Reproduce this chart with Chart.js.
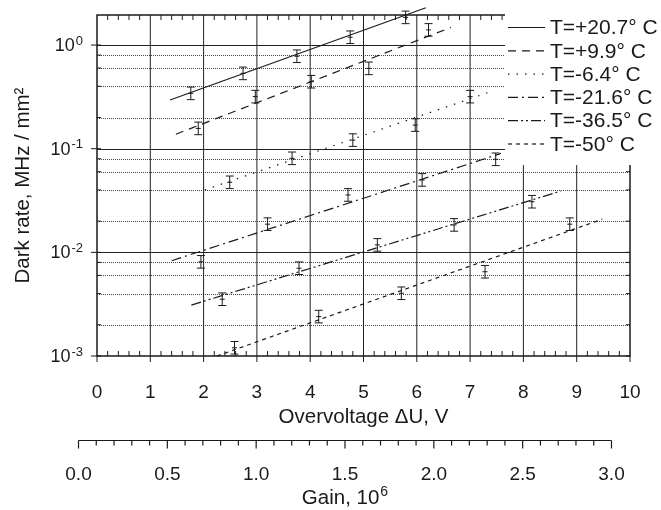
<!DOCTYPE html>
<html>
<head>
<meta charset="utf-8">
<script src="https://cdn.jsdelivr.net/npm/chart.js@4.4.0/dist/chart.umd.min.js"></script>
<style>
  html, body { margin: 0; padding: 0; background: #fff; }
  #wrap { width: 661px; height: 510px; }
</style>
</head>
<body>
<div id="wrap"><canvas id="chart" width="661" height="510"></canvas></div>
<script>
const temps = ['T=+20.7° C', 'T=+9.9° C', 'T=-6.4° C', 'T=-21.6° C', 'T=-36.5° C', 'T=-50° C'];

// measured dark rate (MHz/mm2) vs overvoltage (V)
const volt207 = [1.76, 2.74, 3.75, 4.75, 5.79];
const rate207 = [0.342, 0.533, 0.78, 1.19, 1.85];
const volt99 = [1.90, 2.97, 4.02, 5.10, 6.22];
const rate99 = [0.157, 0.318, 0.443, 0.596, 1.40];
const volt64 = [2.49, 3.66, 4.80, 5.97, 7.00];
const rate64 = [0.0474, 0.0808, 0.121, 0.169, 0.318];
const volt216 = [1.95, 3.20, 4.71, 6.10, 7.48];
const rate216 = [0.0081, 0.0187, 0.0358, 0.050, 0.079];
const volt365 = [2.35, 3.79, 5.26, 6.70, 8.16];
const rate365 = [0.00353, 0.00703, 0.0118, 0.0184, 0.0308];
const volt50 = [2.58, 4.16, 5.71, 7.28, 8.87];
const rate50 = [0.0012, 0.0024, 0.00403, 0.0065, 0.0187];

// relative error of each point (same for a series)
const relErr = [0.15, 0.15, 0.15, 0.15, 0.15, 0.15];

// fitted exponential lines, end points
const fitVolt207 = [1.37, 6.17], fitRate207 = [0.295, 2.29];
const fitVolt99 = [1.48, 6.64], fitRate99 = [0.138, 1.48];
const fitVolt64 = [2.02, 7.42], fitRate64 = [0.040, 0.36];
const fitVolt216 = [1.40, 7.58], fitRate216 = [0.0083, 0.090];
const fitVolt365 = [1.77, 8.70], fitRate365 = [0.0031, 0.039];
const fitVolt50 = [2.25, 9.48], fitRate50 = [0.0010, 0.0209];

const decades = [0.001, 0.01, 0.1, 1];
const decadeExp = ['-3', '-2', '-1', '0'];
const minorMult = [2, 4, 6, 8];

const dashes = [[], [8, 6], [1.5, 7], [10, 4, 2, 4], [10, 3, 2, 3, 2, 3], [4, 4]];

const ink = '#1a1a1a';
const family = "'Liberation Sans', Arial, 'DejaVu Sans', sans-serif";
const gainShift = 18.5;

const pts = [[volt207, rate207], [volt99, rate99], [volt64, rate64], [volt216, rate216], [volt365, rate365], [volt50, rate50]];
const fits = [[fitVolt207, fitRate207], [fitVolt99, fitRate99], [fitVolt64, fitRate64], [fitVolt216, fitRate216], [fitVolt365, fitRate365], [fitVolt50, fitRate50]];

const zip = (xs, ys) => xs.map((x, i) => ({ x: x, y: ys[i] }));

const datasets = [];
fits.forEach((f, i) => {
  datasets.push({
    label: temps[i],
    data: zip(f[0], f[1]),
    showLine: true,
    borderColor: ink,
    borderWidth: 1.2,
    borderDash: dashes[i],
    pointRadius: 0,
    clip: false,
    isFit: true
  });
});
pts.forEach((p, i) => {
  datasets.push({
    label: temps[i] + ' data',
    data: zip(p[0], p[1]),
    showLine: false,
    pointStyle: 'line',
    pointRadius: 2.5,
    borderColor: ink,
    borderWidth: 1,
    clip: false,
    err: relErr[i]
  });
});

const decor = {
  id: 'decor',
  afterLayout(chart) {
    const g = chart.scales.x2;
    g.left -= gainShift;
    g.right -= gainShift;
    g.configure();
  },
  beforeDatasetsDraw(chart) {
    const ctx = chart.ctx;
    const { left, right, top, bottom } = chart.chartArea;
    const x = chart.scales.x, y = chart.scales.y;
    ctx.save();
    // dotted minor grid
    ctx.strokeStyle = '#444';
    ctx.lineWidth = 1;
    ctx.setLineDash([1, 1]);
    decades.forEach(d => minorMult.forEach(m => {
      const v = d * m;
      if (v >= y.max) return;
      const py = Math.round(y.getPixelForValue(v)) + 0.5;
      ctx.beginPath(); ctx.moveTo(left, py); ctx.lineTo(right, py); ctx.stroke();
    }));
    ctx.setLineDash([]);
    ctx.strokeStyle = '#222';
    decades.slice(1).forEach(d => {
      const py = Math.round(y.getPixelForValue(d)) + 0.5;
      ctx.beginPath(); ctx.moveTo(left, py); ctx.lineTo(right, py); ctx.stroke();
    });
    for (let v = 1; v < 10; v++) {
      const px = x.getPixelForValue(v);
      ctx.beginPath(); ctx.moveTo(px, top); ctx.lineTo(px, bottom); ctx.stroke();
    }
    // frame
    ctx.strokeStyle = ink;
    ctx.lineWidth = 1.5;
    ctx.strokeRect(left, top, right - left, bottom - top);
    // ticks
    ctx.lineWidth = 1;
    for (let i = 1; i < 50; i++) {
      if (i % 5 === 0) continue;
      const px = x.getPixelForValue(i / 5);
      ctx.beginPath(); ctx.moveTo(px, bottom); ctx.lineTo(px, bottom - 5); ctx.stroke();
      ctx.beginPath(); ctx.moveTo(px, top); ctx.lineTo(px, top + 5); ctx.stroke();
    }
    for (let v = 0; v <= 10; v++) {
      const px = x.getPixelForValue(v);
      ctx.beginPath(); ctx.moveTo(px, bottom); ctx.lineTo(px, bottom + 6); ctx.stroke();
    }
    decades.forEach(d => {
      const py = y.getPixelForValue(d);
      ctx.beginPath(); ctx.moveTo(left - 6, py); ctx.lineTo(left + 4, py); ctx.stroke();
      ctx.beginPath(); ctx.moveTo(right - 4, py); ctx.lineTo(right, py); ctx.stroke();
      minorMult.forEach(m => {
        const v = d * m;
        if (v >= y.max) return;
        const pm = y.getPixelForValue(v);
        ctx.beginPath(); ctx.moveTo(left, pm); ctx.lineTo(left + 4, pm); ctx.stroke();
        ctx.beginPath(); ctx.moveTo(right - 4, pm); ctx.lineTo(right, pm); ctx.stroke();
      });
    });
    ctx.restore();
  },
  afterDatasetsDraw(chart) {
    const ctx = chart.ctx;
    const x = chart.scales.x, y = chart.scales.y;
    ctx.save();
    ctx.strokeStyle = ink;
    ctx.lineWidth = 1;
    chart.data.datasets.forEach(ds => {
      if (ds.err === undefined) return;
      ds.data.forEach(p => {
        const px = x.getPixelForValue(p.x);
        const hi = y.getPixelForValue(p.y * (1 + ds.err));
        const lo = y.getPixelForValue(p.y / (1 + ds.err));
        ctx.beginPath();
        ctx.moveTo(px, hi); ctx.lineTo(px, lo);
        ctx.moveTo(px - 4, hi); ctx.lineTo(px + 4, hi);
        ctx.moveTo(px - 4, lo); ctx.lineTo(px + 4, lo);
        ctx.stroke();
      });
    });
    ctx.restore();
  },
  afterDraw(chart) {
    const ctx = chart.ctx;
    const y = chart.scales.y, g = chart.scales.x2;
    ctx.save();
    // y tick labels with superscript
    ctx.fillStyle = ink;
    ctx.textBaseline = 'middle';
    ctx.textAlign = 'left';
    decades.forEach((d, i) => {
      const py = y.getPixelForValue(d);
      ctx.font = '13px ' + family;
      const ew = ctx.measureText(decadeExp[i]).width;
      ctx.font = '18px ' + family;
      const bw = ctx.measureText('10').width;
      const x0 = 83 - ew - bw - 1;
      ctx.fillText('10', x0, py + 1);
      ctx.font = '13px ' + family;
      ctx.fillText(decadeExp[i], x0 + bw + 1, py - 4);
    });
    // gain axis
    ctx.strokeStyle = ink;
    ctx.lineWidth = 1.2;
    const gy = g.top + 0.5;
    ctx.beginPath(); ctx.moveTo(g.getPixelForValue(0), gy); ctx.lineTo(g.getPixelForValue(3), gy); ctx.stroke();
    for (let i = 0; i <= 30; i++) {
      const px = g.getPixelForValue(i / 10);
      const len = i % 5 === 0 ? 8 : 5;
      ctx.beginPath(); ctx.moveTo(px, gy); ctx.lineTo(px, gy + len); ctx.stroke();
    }
    // gain title with superscript
    ctx.font = '20.5px ' + family;
    const tw = ctx.measureText('Gain, 10').width;
    ctx.font = '14px ' + family;
    const sw = ctx.measureText('6').width;
    const tx = (g.left + g.right) / 2 - (tw + sw + 1) / 2;
    ctx.font = '20.5px ' + family;
    ctx.fillText('Gain, 10', tx, 498);
    ctx.font = '14px ' + family;
    ctx.fillText('6', tx + tw + 1, 492);
    // legend
    ctx.fillStyle = '#fff';
    ctx.fillRect(chart.chartArea.right - 125, 0, 160, 165);
    ctx.fillStyle = ink;
    ctx.font = '21px ' + family;
    chart.data.datasets.filter(ds => ds.isFit).forEach((ds, i) => {
      const ly = 27.5 + i * 23.3;
      ctx.setLineDash(ds.borderDash);
      ctx.lineWidth = 1.2;
      ctx.beginPath(); ctx.moveTo(508, ly); ctx.lineTo(545, ly); ctx.stroke();
      ctx.setLineDash([]);
      ctx.fillText(ds.label, 550, ly + 1);
    });
    ctx.restore();
  }
};

new Chart(document.getElementById('chart'), {
  type: 'scatter',
  data: { datasets: datasets },
  options: {
    responsive: false,
    devicePixelRatio: 1,
    animation: false,
    events: [],
    layout: { padding: { top: 15, right: 31, left: 0, bottom: 0 } },
    plugins: { legend: { display: false }, tooltip: { enabled: false } },
    scales: {
      x: {
        type: 'linear', position: 'bottom', weight: 0,
        min: 0, max: 10,
        afterFit: s => { s.height = 84; },
        grid: { display: false },
        border: { display: false },
        ticks: { stepSize: 1, padding: 17.5, color: ink, font: { family: family, size: 19 }, maxRotation: 0, autoSkip: false },
        title: { display: true, text: 'Overvoltage ΔU, V', color: ink, font: { family: family, size: 20.5 }, padding: { top: 0, bottom: 10.7 } }
      },
      x2: {
        type: 'linear', position: 'bottom', axis: 'x', weight: 1,
        min: 0, max: 3,
        afterFit: s => { s.height = 70; },
        grid: { display: false },
        border: { display: false },
        ticks: { stepSize: 0.5, padding: 15.6, color: ink, font: { family: family, size: 19 }, maxRotation: 0, autoSkip: false,
                 callback: v => v.toFixed(1) },
        title: { display: false }
      },
      y: {
        type: 'logarithmic', position: 'left',
        min: 0.001, max: 1.95,
        afterFit: s => { s.width = 97; },
        afterBuildTicks: s => { s.ticks = decades.map(v => ({ value: v })); },
        grid: { display: false },
        border: { display: false },
        ticks: { display: false },
        title: { display: true, text: 'Dark rate, MHz / mm²', color: ink, font: { family: family, size: 20.5 }, padding: { top: 11, bottom: 0 } }
      }
    }
  },
  plugins: [decor]
});
</script>
</body>
</html>
